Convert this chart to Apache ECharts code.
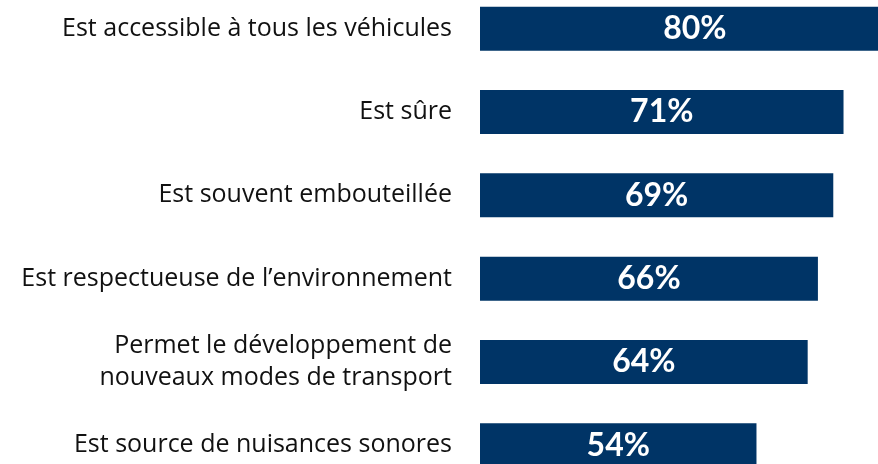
<!DOCTYPE html>
<html>
<head>
<meta charset="utf-8">
<script src="https://cdn.jsdelivr.net/npm/echarts@6/dist/echarts.min.js"></script>
<style>
  html, body { margin: 0; padding: 0; background: #ffffff; width: 878px; height: 464px; overflow: hidden; position: relative; }
  /* chart is a bit bigger than the window: the original picture is cropped at right and bottom */
  #chart { position: absolute; left: 0; top: -14px; width: 1000px; height: 520px; }
</style>
</head>
<body>
<div id="chart"></div>
<script>
// categories top to bottom
var categories = [
    "Est accessible à tous les véhicules",
    "Est sûre",
    "Est souvent embouteillée",
    "Est respectueuse de l’environnement",
    "Permet le développement de\nnouveaux modes de transport",
    "Est source de nuisances sonores"
];
var values = [80, 71, 69, 66, 64, 54];

var chart = echarts.init(document.getElementById('chart'), null, { renderer: 'canvas' });

var seriesData = values.map(function (v, i) {
    var item = { value: v };
    if (i === 0) {
        // bar runs off the right edge, label sits a bit further right
        item.label = { offset: [10, 0] };
    }
    return item;
});

var option = {
    animation: false,
    grid: {
        left: 480,
        top: 1,
        width: 512,
        height: 500,
        containLabel: false
    },
    xAxis: {
        type: 'value',
        min: 0,
        max: 100,
        show: false
    },
    yAxis: {
        type: 'category',
        data: categories,
        inverse: true,
        axisLine: { show: false },
        axisTick: { show: false },
        splitLine: { show: false },
        axisLabel: {
            margin: 28,
            color: '#111111',
            fontFamily: 'Open Sans',
            fontSize: 25,
            lineHeight: 32,
            align: 'right'
        }
    },
    series: [
        {
            type: 'bar',
            data: seriesData,
            barWidth: 44,
            itemStyle: { color: '#003466' },
            label: {
                show: true,
                position: 'inside',
                formatter: '{c}%',
                color: '#ffffff',
                fontFamily: 'Lato',
                fontWeight: 'bold',
                fontSize: 32
            }
        }
    ]
};

chart.setOption(option);
</script>
</body>
</html>
